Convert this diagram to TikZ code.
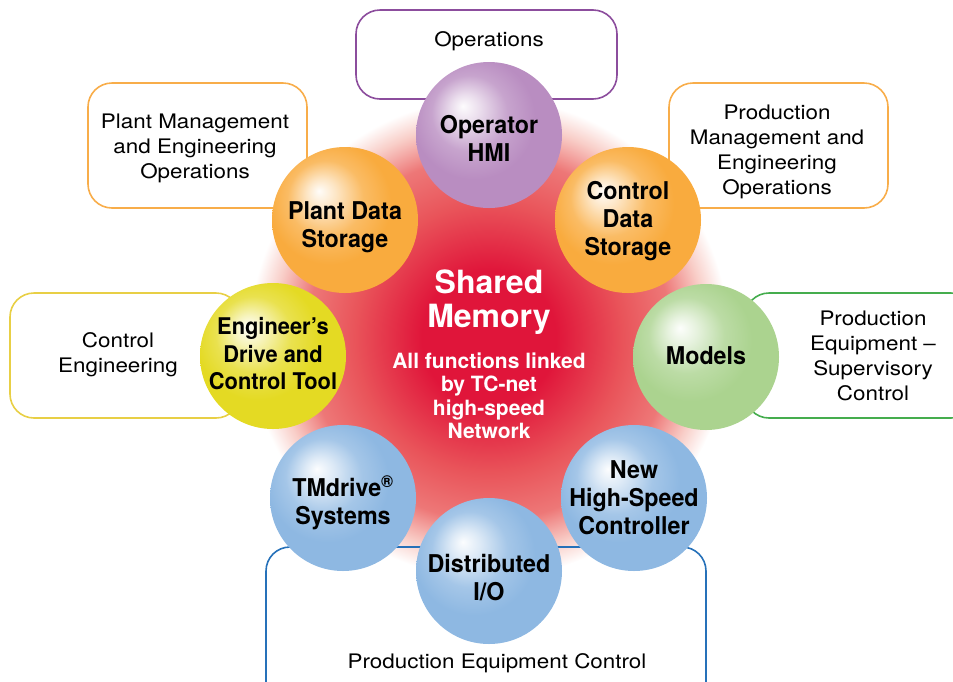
\documentclass[tikz,border=0pt]{standalone}
\usepackage{fontspec}
\setmainfont{TeX Gyre Heros}
\newfontfamily\boxfont[FakeStretch=1.12]{TeX Gyre Heros}
\newfontfamily\ballfont[FakeStretch=0.95]{TeX Gyre Heros}
\definecolor{glowred}{HTML}{E0153A}
\definecolor{glowmid}{HTML}{E9545A}
\definecolor{glowout}{HTML}{F4ADA3}
\definecolor{hmiball}{HTML}{B98DC1}
\definecolor{storeball}{HTML}{F9AB3E}
\definecolor{toolball}{HTML}{E4DA23}
\definecolor{modelball}{HTML}{ABD38F}
\definecolor{ioball}{HTML}{8EB8E2}
\definecolor{opsline}{HTML}{8C4D9D}
\definecolor{mgmtline}{HTML}{F8AD4A}
\definecolor{engline}{HTML}{E8CF45}
\definecolor{supline}{HTML}{45AD4E}
\definecolor{ctrlline}{HTML}{2671B9}
\colorlet{ballc}{white}
\pgfdeclareradialshading[ballc]{sphere}{\pgfqpoint{-9bp}{10bp}}{color(0bp)=(ballc!3!white); color(5bp)=(ballc!30!white); color(13bp)=(ballc!80!white); color(21bp)=(ballc); color(50bp)=(ballc)}
\pgfdeclareradialshading{glow}{\pgfpointorigin}{color(0bp)=(glowred); color(7bp)=(glowred); color(14bp)=(glowmid); color(19bp)=(glowmid!60!glowout); color(22.5bp)=(glowout!60!white); color(25bp)=(white); color(50bp)=(white)}
\begin{document}
\begin{tikzpicture}[x=1pt,y=-1pt,
    box/.style={line width=1.6pt,rounded corners=24pt,draw=#1},
    boxtext/.style={font=\boxfont\fontsize{20}{25}\selectfont,align=center,inner sep=0pt},
    ball/.style={circle,minimum size=146pt,inner sep=0pt,
        /utils/exec={\colorlet{ballc}{#1}},shading=sphere},
    balltext/.style={align=center,inner sep=0pt,font=\ballfont\bfseries\fontsize{24.5}{28}\selectfont}]
    \useasboundingbox (0,0) rectangle (953,681);
    \clip (0,0) rectangle (953,681);
    \shade[shading=glow] (489,338) circle (240);
    % boxes
    \draw[box=opsline] (356,10) rectangle (617,99);
    \draw[box=mgmtline] (88,83) rectangle (307,208);
    \draw[box=mgmtline] (669,83) rectangle (888,208);
    \draw[box=engline] (10,293) rectangle (240,418);
    \draw[box=supline] (745,293) rectangle (975,418);
    \draw[box=ctrlline] (266,547) rectangle (706,710);
    \node[boxtext] (ops) at (489,41) {Operations};
    \node[boxtext] (plantmgmt) at (195,148) {Plant Management\\and Engineering\\Operations};
    \node[boxtext] (prodmgmt) at (777,152) {Production\\Management and\\Engineering\\Operations};
    \node[boxtext] (ctrleng) at (118,355) {Control\\Engineering};
    \node[boxtext] (supctrl) at (873,356) {Production\\Equipment –\\Supervisory\\Control};
    \node[boxtext] (eqctrl) at (497,663) {Production Equipment Control};
    % balls
    \node[ball=hmiball] (hmi) at (489,135) {};
    \node[ball=storeball] (plantdata) at (345,220) {};
    \node[ball=storeball] (ctrldata) at (628,220) {};
    \node[ball=toolball] (tool) at (273,356) {};
    \node[ball=modelball] (models) at (706,357) {};
    \node[ball=ioball] (tmdrive) at (343,498) {};
    \node[ball=ioball] (hsctrl) at (634,498) {};
    \node[ball=ioball] (dio) at (489,571) {};
    \node[balltext] (hmitext) at (489,138) {Operator\\HMI};
    \node[balltext] (plantdatatext) at (345,227) {Plant Data\\Storage};
    \node[balltext] (ctrldatatext) at (628,221) {Control\\Data\\Storage};
    \node[balltext,font=\ballfont\bfseries\fontsize{23}{27.5}\selectfont] (tooltext) at (273,354) {Engineer’s\\Drive and\\Control Tool};
    \node[balltext] (modelstext) at (706,356) {Models};
    \node[balltext] (tmdrivetext) at (343,503) {TMdrive\textsuperscript{\textregistered}\\Systems};
    \node[balltext] (hsctrltext) at (634,498) {New\\High-Speed\\Controller};
    \node[balltext] (diotext) at (489,578) {Distributed\\I/O};
    % shared memory
    \node[text=white,align=center,font=\bfseries\fontsize{32}{34}\selectfont] (shared) at (489,302) {Shared\\Memory};
    \node[text=white,align=center,font=\bfseries\fontsize{21}{23.5}\selectfont] (linked) at (489,396) {All functions linked\\by TC-net\\high-speed\\Network};
\end{tikzpicture}
\end{document}
